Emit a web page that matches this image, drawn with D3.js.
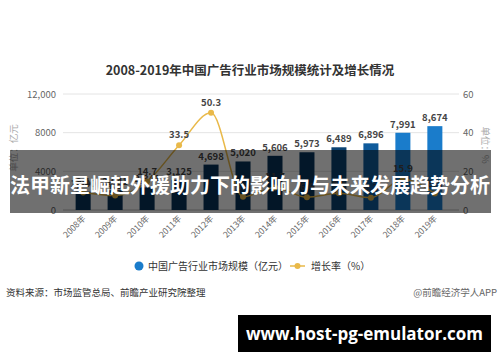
<!DOCTYPE html>
<html>
<head>
<meta charset="utf-8">
<script src="https://cdn.jsdelivr.net/npm/d3@7"></script>
<style>
  body { margin: 0; background: #fff; }
  svg { display: block; font-family: "Noto Sans CJK SC", "Noto Sans", sans-serif; }
</style>
</head>
<body>
<div id="chart"></div>
<script>
const years = ["2008年", "2009年", "2010年", "2011年", "2012年", "2013年", "2014年", "2015年", "2016年", "2017年", "2018年", "2019年"];
const marketSize = [1900, 2041, 2341, 3125, 4698, 5020, 5606, 5973, 6489, 6896, 7991, 8674];
const growthRate = [9.1, 7.5, 14.7, 33.5, 50.3, 6.8, 11.7, 6.6, 8.6, 6.3, 15.9, 8.5];
const barColors = ["#07325a", "#07325a", "#07325a", "#07325a", "#07325a", "#07325a", "#07325a", "#08365f", "#0b4272", "#0f5b9c", "#1a7ccb", "#1a7ccb"];
const leftTicks = [0, 4000, 8000, 12000];
const leftTickLabels = ["0", "4000", "8000", "12,000"];
const rightTicks = [0, 20, 40, 60];

const width = 500, height = 362;
const svg = d3.select("#chart").append("svg")
  .attr("width", width)
  .attr("height", height);

const x = d3.scaleBand().domain(years).range([67, 451]).paddingInner(0.53).paddingOuter(0.27);
const yLeft = d3.scaleLinear().domain([0, 12000]).range([210, 94]);
const yRight = d3.scaleLinear().domain([0, 60]).range([210, 94]);

// title
svg.append("text")
  .attr("x", 250).attr("y", 75)
  .attr("text-anchor", "middle")
  .attr("font-size", 12.5).attr("font-weight", "bold")
  .attr("fill", "#333")
  .text("2008-2019年中国广告行业市场规模统计及增长情况");

// gridlines
svg.append("g")
  .selectAll("line")
  .data(leftTicks)
  .join("line")
  .attr("x1", 63).attr("x2", 459)
  .attr("y1", d => yLeft(d)).attr("y2", d => yLeft(d))
  .attr("stroke", d => d === 0 ? "#bbb" : "#e4e4e4")
  .attr("stroke-width", 1);

// left axis labels
svg.append("g")
  .selectAll("text")
  .data(leftTicks)
  .join("text")
  .attr("x", 56).attr("y", d => yLeft(d) + 3.5)
  .attr("text-anchor", "end")
  .attr("font-size", 9.5).attr("fill", "#666")
  .text((d, i) => leftTickLabels[i]);

// right axis labels
svg.append("g")
  .selectAll("text")
  .data(rightTicks)
  .join("text")
  .attr("x", 463).attr("y", d => yRight(d) + 3.5)
  .attr("font-size", 9.5).attr("fill", "#666")
  .text(d => d);

svg.append("text")
  .attr("transform", "translate(17,148) rotate(-90)")
  .attr("text-anchor", "middle")
  .attr("font-size", 9.5).attr("fill", "#aaa")
  .text("单位：亿元");

svg.append("text")
  .attr("transform", "translate(482,145) rotate(90)")
  .attr("text-anchor", "middle")
  .attr("font-size", 9.5).attr("fill", "#aaa")
  .text("单位：%");

// bars
svg.append("g")
  .selectAll("rect")
  .data(marketSize)
  .join("rect")
  .attr("x", (d, i) => x(years[i]))
  .attr("y", d => yLeft(d))
  .attr("width", x.bandwidth())
  .attr("height", d => yLeft(0) - yLeft(d))
  .attr("fill", (d, i) => barColors[i]);

svg.append("g")
  .selectAll("text")
  .data(marketSize)
  .join("text")
  .attr("x", (d, i) => x(years[i]) + x.bandwidth() / 2)
  .attr("y", d => yLeft(d) - 5)
  .attr("text-anchor", "middle")
  .attr("font-size", 9.5).attr("font-weight", "bold")
  .attr("fill", "#444")
  .text(d => d3.format(",")(d));

// growth line
const cx = i => x(years[i]) + x.bandwidth() / 2;
const line = d3.line()
  .x((d, i) => cx(i))
  .y(d => yRight(d))
  .curve(d3.curveMonotoneX);

svg.append("path")
  .datum(growthRate)
  .attr("d", line)
  .attr("fill", "none")
  .attr("stroke", "#e9b949")
  .attr("stroke-width", 1.5);

svg.append("g")
  .selectAll("circle")
  .data(growthRate)
  .join("circle")
  .attr("cx", (d, i) => cx(i))
  .attr("cy", d => yRight(d))
  .attr("r", 3)
  .attr("fill", "#e9b949");

svg.append("g")
  .selectAll("text")
  .data(growthRate)
  .join("text")
  .attr("x", (d, i) => cx(i))
  .attr("y", d => yRight(d) - 7)
  .attr("text-anchor", "middle")
  .attr("font-size", 9.5).attr("font-weight", "bold")
  .attr("fill", "#444")
  .text(d => d.toFixed(1));

// x labels
svg.append("g")
  .selectAll("text")
  .data(years)
  .join("text")
  .attr("transform", d => `translate(${x(d) + x.bandwidth() / 2 + 3},${219}) rotate(-45)`)
  .attr("text-anchor", "end")
  .attr("font-size", 8.5).attr("fill", "#666")
  .text(d => d);

// legend
svg.append("circle").attr("cx", 139).attr("cy", 266).attr("r", 4.5).attr("fill", "#1a7ccb");
svg.append("text").attr("x", 148).attr("y", 270)
  .attr("font-size", 10).attr("fill", "#333")
  .text("中国广告行业市场规模（亿元）");
svg.append("line").attr("x1", 290).attr("x2", 305).attr("y1", 266).attr("y2", 266)
  .attr("stroke", "#e9b949").attr("stroke-width", 1.5);
svg.append("circle").attr("cx", 297.5).attr("cy", 266).attr("r", 3).attr("fill", "#e9b949");
svg.append("text").attr("x", 311).attr("y", 270)
  .attr("font-size", 10).attr("fill", "#333")
  .text("增长率（%）");

// source
svg.append("text").attr("x", 6).attr("y", 296)
  .attr("font-size", 9.5).attr("fill", "#333")
  .text("资料来源：市场监管总局、前瞻产业研究院整理");
svg.append("text").attr("x", 497).attr("y", 296)
  .attr("text-anchor", "end")
  .attr("font-size", 9.5).attr("fill", "#666")
  .text("@前瞻经济学人APP");

// overlay banner
svg.append("rect")
  .attr("x", 10).attr("y", 150).attr("width", 481).attr("height", 63)
  .attr("fill", "#000").attr("fill-opacity", 0.56);
svg.append("text")
  .attr("x", 250).attr("y", 193)
  .attr("text-anchor", "middle")
  .attr("font-size", 20).attr("font-weight", "bold")
  .attr("fill", "#fff")
  .text("法甲新星崛起外援助力下的影响力与未来发展趋势分析");

// footer box
svg.append("rect")
  .attr("x", 238).attr("y", 315).attr("width", 253).attr("height", 37)
  .attr("fill", "#000");
svg.append("text")
  .attr("x", 364.5).attr("y", 339.5)
  .attr("text-anchor", "middle")
  .attr("font-size", 17).attr("font-weight", "bold")
  .attr("font-family", "'Open Sans', 'DejaVu Sans', sans-serif")
  .attr("fill", "#fff")
  .text("www.host-pg-emulator.com");
</script>
</body>
</html>
